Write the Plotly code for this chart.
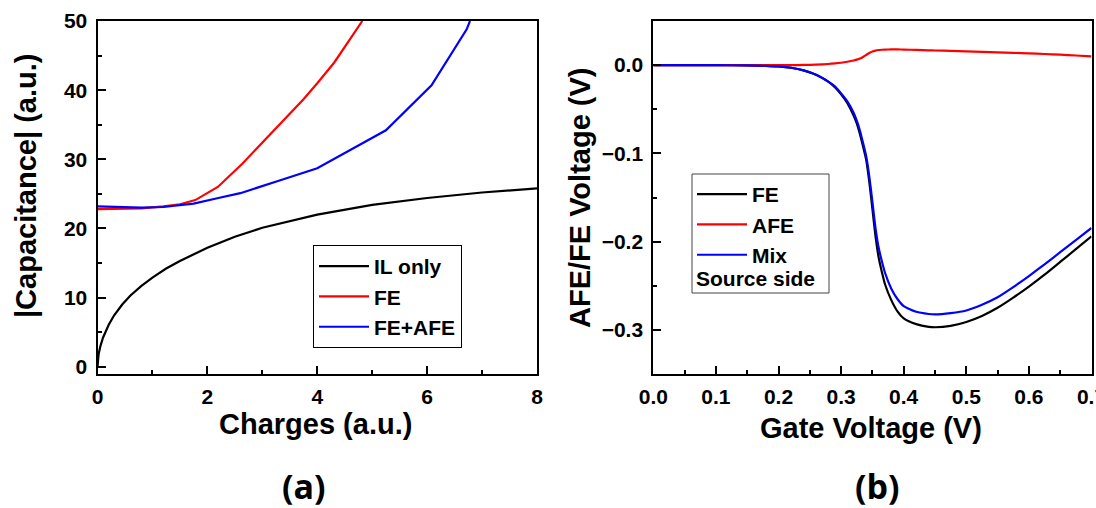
import plotly.graph_objects as go

# ---------------- Data: panel (a) ----------------
q_il = [0, 0.02, 0.05, 0.1, 0.2, 0.3, 0.45, 0.6, 0.8, 1.0, 1.25, 1.5, 2.0, 2.5, 3.0, 3.5, 4.0, 5.0, 6.0, 7.0, 8.0]
c_il = [0, 1.8, 2.9, 4.2, 6.0, 7.4, 9.0, 10.3, 11.7, 12.9, 14.2, 15.3, 17.2, 18.8, 20.1, 21.1, 22.0, 23.4, 24.4, 25.2, 25.8]

q_fe = [0, 0.4, 0.8, 1.2, 1.5, 1.78, 2.19, 2.64, 3.2, 3.75, 4.0, 4.31, 4.82]
c_fe = [22.8, 22.8, 22.9, 23.2, 23.5, 24.1, 26.0, 29.4, 34.1, 38.7, 41.0, 44.0, 50.0]

q_mix = [0, 0.4, 0.8, 1.2, 1.75, 2.2, 2.6, 3.3, 4.0, 5.25, 6.08, 6.72, 6.78]
c_mix = [23.2, 23.05, 23.0, 23.1, 23.6, 24.4, 25.1, 26.9, 28.7, 34.2, 40.7, 48.8, 50.0]

names_a = ["IL only", "FE", "FE+AFE"]

# ---------------- Data: panel (b) ----------------
vg = [0.0, 0.05, 0.10, 0.15, 0.18, 0.20, 0.22, 0.24, 0.26, 0.28, 0.29, 0.30, 0.31, 0.32,
      0.325, 0.33, 0.335, 0.34, 0.345, 0.35, 0.355, 0.36, 0.365, 0.37, 0.38, 0.39, 0.40,
      0.42, 0.44, 0.45, 0.475, 0.50, 0.525, 0.55, 0.575, 0.60, 0.625, 0.65, 0.675, 0.70]
v_fe = [0, 0, 0, -0.0003, -0.0008, -0.0015, -0.003, -0.006, -0.011, -0.019, -0.025, -0.033,
        -0.043, -0.057, -0.066, -0.078, -0.092, -0.107, -0.132, -0.163, -0.194, -0.218,
        -0.234, -0.248, -0.266, -0.279, -0.287, -0.2935, -0.2965, -0.297, -0.2955, -0.291,
        -0.2842, -0.275, -0.2635, -0.251, -0.2375, -0.223, -0.2085, -0.194]
v_afe = [0, 0, 0, 0, 0, 0, 0, 0.0002, 0.0006, 0.0013, 0.0019, 0.0027, 0.0038, 0.0052,
         0.0062, 0.0074, 0.0092, 0.0115, 0.0138, 0.0155, 0.0165, 0.0171, 0.0174, 0.0176,
         0.0178, 0.0178, 0.0176, 0.0172, 0.0168, 0.0166, 0.0161, 0.0156, 0.0151, 0.0145,
         0.0139, 0.0133, 0.0126, 0.0119, 0.0109, 0.0099]
v_mix = [0, 0, 0, -0.0003, -0.0008, -0.0015, -0.003, -0.006, -0.011, -0.019, -0.024, -0.032,
         -0.041, -0.054, -0.063, -0.074, -0.088, -0.103, -0.126, -0.155, -0.185, -0.207,
         -0.222, -0.235, -0.253, -0.265, -0.273, -0.2795, -0.282, -0.2825, -0.281, -0.278,
         -0.2715, -0.263, -0.2515, -0.239, -0.2258, -0.212, -0.1983, -0.1845]

names_b = ["FE", "AFE", "Mix"]

BLACK, RED, BLUE = "#000000", "#ff0000", "#0000ff"
FONT = "Arial, 'Liberation Sans', sans-serif"
W, H = 1096, 508

def px(x):
    return x / W

def py(y):
    return 1 - y / H

fig = go.Figure()

for xs, ys, nm, col in [(q_il, c_il, names_a[0], BLACK), (q_fe, c_fe, names_a[1], RED),
                        (q_mix, c_mix, names_a[2], BLUE)]:
    fig.add_trace(go.Scatter(x=xs, y=ys, name=nm, mode="lines", line=dict(color=col, width=2.2),
                             xaxis="x", yaxis="y", legend="legend"))

for ys, nm, col in [(v_fe, names_b[0], BLACK), (v_afe, names_b[1], RED), (v_mix, names_b[2], BLUE)]:
    fig.add_trace(go.Scatter(x=vg, y=ys, name=nm, mode="lines",
                             line=dict(color=col, width=2.2, shape="spline", smoothing=0.6),
                             xaxis="x2", yaxis="y2", legend="legend2"))

tickfont = dict(family=FONT, size=21, color="black", weight="bold")
common = dict(showline=True, linecolor="black", linewidth=2, mirror=True, ticks="inside",
              ticklen=8, tickwidth=2, tickcolor="black", showgrid=False, zeroline=False,
              tickfont=tickfont, automargin=False, ticklabeloverflow="allow")
minor_common = dict(ticks="inside", ticklen=4, tickwidth=2, tickcolor="black")

fig.update_layout(
    width=W, height=H, margin=dict(l=0, r=0, t=0, b=0),
    paper_bgcolor="white", plot_bgcolor="white",
    xaxis=dict(domain=[px(97.5), px(537)], range=[0, 8], dtick=2, tick0=0, anchor="y",
               minor=dict(dtick=1, **minor_common), ticklabelstandoff=3, **common),
    yaxis=dict(domain=[py(374), py(21)], range=[-1.05, 50], dtick=10, tick0=0, anchor="x",
               minor=dict(dtick=5, **minor_common), ticklabelstandoff=4, **common),
    xaxis2=dict(domain=[px(653.3), px(1091.5)], range=[0, 0.7], dtick=0.1, tick0=0, anchor="y2",
                tickformat=".1f", minor=dict(dtick=0.05, **minor_common), ticklabelstandoff=3, **common),
    yaxis2=dict(domain=[py(374), py(21)], range=[-0.35, 0.05], dtick=0.1, tick0=0, anchor="x2",
                tickformat=".1f", minor=dict(dtick=0.05, **minor_common), ticklabelstandoff=4, **common),
    legend=dict(x=px(313), y=py(245), xanchor="left", yanchor="top",
                bgcolor="white", bordercolor="black", borderwidth=1,
                font=dict(family=FONT, size=21, color="black", weight="bold"),
                itemwidth=50, tracegroupgap=0),
    legend2=dict(x=px(692), y=py(174), xanchor="left", yanchor="top",
                 bgcolor="rgba(0,0,0,0)", borderwidth=0,
                 font=dict(family=FONT, size=21, color="black", weight="bold"),
                 itemwidth=50, tracegroupgap=0),
    showlegend=True,
)

# Box around right legend (includes the "Source side" note)
fig.add_shape(type="rect", xref="paper", yref="paper", x0=px(692), x1=px(829), y0=py(293), y1=py(174),
              line=dict(color="#444444", width=1), fillcolor="rgba(0,0,0,0)", layer="above")

title_font = dict(family=FONT, size=29, color="black", weight="bold")
ann = [
    dict(text="Source side", x=px(694), y=py(278), xanchor="left", yanchor="middle",
         font=dict(family=FONT, size=21, color="black", weight="bold")),
    dict(text="Charges (a.u.)", x=px(315), y=py(424), xanchor="center", yanchor="middle", font=title_font),
    dict(text="|Capacitance| (a.u.)", x=px(26), y=py(186), xanchor="center", yanchor="middle",
         textangle=-90, font=title_font),
    dict(text="Gate Voltage (V)", x=px(871), y=py(428), xanchor="center", yanchor="middle", font=title_font),
    dict(text="AFE/FE Voltage (V)", x=px(580), y=py(198), xanchor="center", yanchor="middle",
         textangle=-90, font=title_font),
    dict(text="(a)", x=px(304), y=py(486), xanchor="center", yanchor="middle",
         font=dict(family="'Open Sans', sans-serif", size=34, color="black", weight="bold")),
    dict(text="(b)", x=px(877), y=py(486), xanchor="center", yanchor="middle",
         font=dict(family="'Open Sans', sans-serif", size=34, color="black", weight="bold")),
]
for a in ann:
    fig.add_annotation(xref="paper", yref="paper", showarrow=False, **a)

fig.write_html("out.html", config={"displayModeBar": False},
               post_script="document.body.style.margin='0';document.body.style.overflow='hidden';")
